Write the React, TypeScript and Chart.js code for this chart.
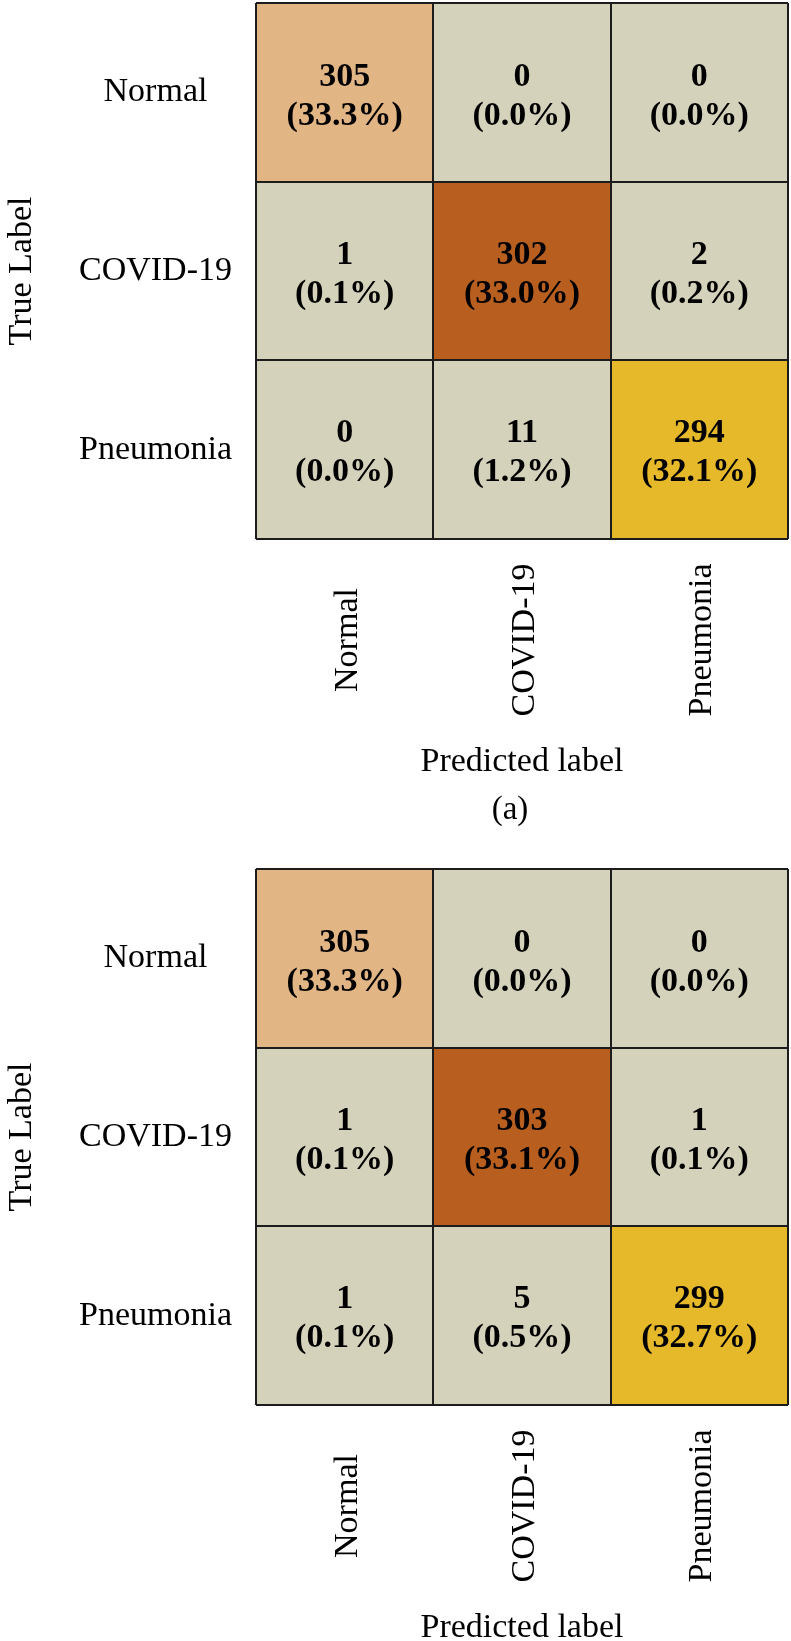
import React, { useEffect, useRef } from 'react';
import { Chart, registerables } from 'chart.js';

Chart.register(...registerables);

// ---------- data ----------
const predictedLabels = ['Normal', 'COVID-19', 'Pneumonia'];
const trueLabels = ['Normal', 'COVID-19', 'Pneumonia'];

// panel (a): rows = true label, columns = predicted label
const countsA_normal = [305, 0, 0];
const countsA_covid = [1, 302, 2];
const countsA_pneumonia = [0, 11, 294];
const pctA_normal = [33.3, 0.0, 0.0];
const pctA_covid = [0.1, 33.0, 0.2];
const pctA_pneumonia = [0.0, 1.2, 32.1];

// panel (b)
const countsB_normal = [305, 0, 0];
const countsB_covid = [1, 303, 1];
const countsB_pneumonia = [1, 5, 299];
const pctB_normal = [33.3, 0.0, 0.0];
const pctB_covid = [0.1, 33.1, 0.1];
const pctB_pneumonia = [0.1, 0.5, 32.7];

const captions = ['(a)', '(b)'];

// ---------- styles ----------
const FAMILY = "'Liberation Serif', 'Times New Roman', Times, serif";
const DIAG_COLORS = ['#E2B584', '#B85F1F', '#E6B92B'];
const OFF_COLOR = '#D4D2BB';
const LINE_COLOR = '#1c1c1c';
const W = 791;
const H = 866;

type PanelProps = { counts: number[][]; pcts: number[][]; caption: string };

function ConfusionPanel({ counts, pcts, caption }: PanelProps) {
  const ref = useRef<HTMLCanvasElement | null>(null);

  useEffect(() => {
    if (!ref.current) return;

    const datasets = trueLabels.map((t, r) => ({
      label: t,
      data: predictedLabels.map(() => [r, r + 1]),
      backgroundColor: predictedLabels.map((_, c) => (r === c ? DIAG_COLORS[r] : OFF_COLOR)),
      borderWidth: 0,
      barPercentage: 1,
      categoryPercentage: 1,
      grouped: false,
    }));

    const cellText = {
      id: 'cellText',
      afterDatasetsDraw(chart: any) {
        const ctx = chart.ctx;
        ctx.save();
        ctx.fillStyle = '#000';
        ctx.textAlign = 'center';
        ctx.textBaseline = 'middle';
        ctx.font = `bold 34px ${FAMILY}`;
        chart.data.datasets.forEach((_: any, r: number) => {
          const meta = chart.getDatasetMeta(r);
          meta.data.forEach((el: any, c: number) => {
            const { x, y, base } = el.getProps(['x', 'y', 'base'], true);
            const cy = (y + base) / 2;
            ctx.fillText(String(counts[r][c]), x, cy - 16);
            ctx.fillText(`(${pcts[r][c].toFixed(1)}%)`, x, cy + 23);
          });
        });
        ctx.restore();
      },
    };

    const xTickLabels = {
      id: 'xTickLabels',
      afterDraw(chart: any) {
        const ctx = chart.ctx;
        const xs = chart.scales.x;
        const ca = chart.chartArea;
        const yPos = ca.bottom + 101;
        ctx.save();
        ctx.fillStyle = '#000';
        ctx.textAlign = 'center';
        ctx.textBaseline = 'middle';
        ctx.font = `34px ${FAMILY}`;
        predictedLabels.forEach((lab, i) => {
          const px = xs.getPixelForTick(i) + 3;
          ctx.save();
          ctx.translate(px, yPos);
          ctx.rotate(-Math.PI / 2);
          ctx.fillText(lab, 0, 0);
          ctx.restore();
        });
        // panel caption under the axis title
        ctx.font = `33px ${FAMILY}`;
        ctx.fillText(caption, (ca.left + ca.right) / 2 - 12, xs.bottom - 56);
        ctx.restore();
      },
    };

    const chart = new Chart(ref.current, {
      type: 'bar',
      data: { labels: predictedLabels, datasets: datasets as any },
      options: {
        animation: false,
        responsive: false,
        devicePixelRatio: 1,
        layout: { padding: { left: 0, right: 3, top: 3, bottom: 0 } },
        plugins: { legend: { display: false }, tooltip: { enabled: false } },
        scales: {
          x: {
            type: 'category',
            offset: true,
            grid: { offset: true, color: LINE_COLOR, lineWidth: 2, drawTicks: false, z: 1 },
            border: { display: false },
            ticks: { display: false },
            title: {
              display: true,
              text: 'Predicted label',
              color: '#000',
              font: { family: FAMILY, size: 34, lineHeight: 48 / 34 },
              padding: { top: 199, bottom: 80 },
            },
          },
          y: {
            type: 'linear',
            min: 0,
            max: 3,
            reverse: true,
            grid: {
              color: (c: any) => (Number.isInteger(c.tick?.value) ? LINE_COLOR : 'transparent'),
              lineWidth: 2,
              drawTicks: true,
              tickLength: 24,
              tickColor: 'transparent',
              z: 1,
            },
            border: { display: false },
            ticks: {
              stepSize: 0.5,
              autoSkip: false,
              padding: 0,
              crossAlign: 'center',
              color: '#000',
              font: (c: any) =>
                Number.isInteger(c.tick?.value)
                  ? { family: FAMILY, size: 1 }
                  : { family: FAMILY, size: 34 },
              callback: (value: any) => {
                const v = Number(value);
                return Number.isInteger(v) ? '' : trueLabels[Math.floor(v)];
              },
            },
            title: {
              display: true,
              text: 'True Label',
              color: '#000',
              font: { family: FAMILY, size: 34, lineHeight: 1 },
              padding: { top: 5, bottom: 40 },
            },
          },
        },
      } as any,
      plugins: [cellText, xTickLabels],
    });

    return () => chart.destroy();
  }, [counts, pcts, caption]);

  return (
    <div style={{ width: W, height: H }}>
      <canvas ref={ref} width={W} height={H} style={{ display: 'block' }} />
    </div>
  );
}

const countsA = [countsA_normal, countsA_covid, countsA_pneumonia];
const pctsA = [pctA_normal, pctA_covid, pctA_pneumonia];
const countsB = [countsB_normal, countsB_covid, countsB_pneumonia];
const pctsB = [pctB_normal, pctB_covid, pctB_pneumonia];

export default function App() {
  return (
    <div style={{ position: 'absolute', left: 0, top: 0, width: W, background: '#fff' }}>
      <ConfusionPanel counts={countsA} pcts={pctsA} caption={captions[0]} />
      <ConfusionPanel counts={countsB} pcts={pctsB} caption={captions[1]} />
    </div>
  );
}
